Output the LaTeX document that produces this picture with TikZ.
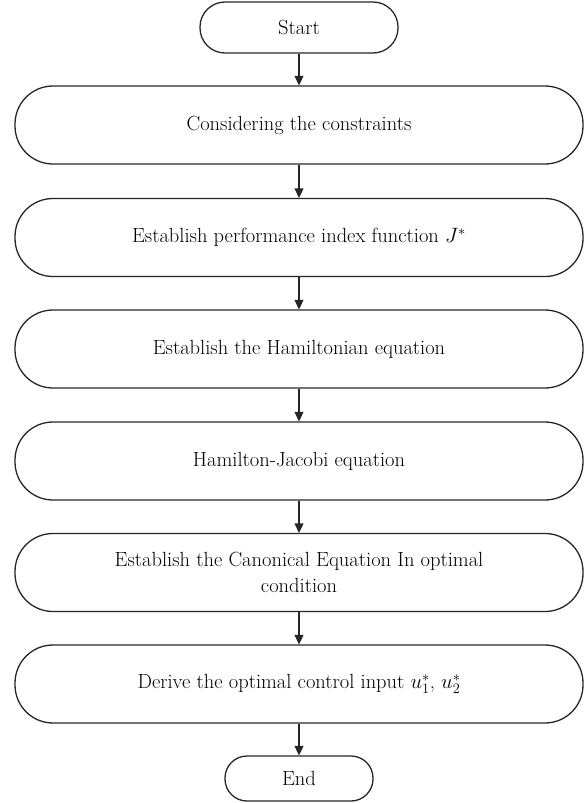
\documentclass[tikz,border=0pt]{standalone}
\usetikzlibrary{arrows.meta}
\begin{document}
\begin{tikzpicture}[x=1pt,y=-1pt,
  txt/.style={font=\fontsize{20.5}{26}\selectfont},
  box/.style={draw=black!85, line width=1.3pt, rounded corners=38pt, minimum width=568pt, minimum height=78pt, inner sep=0pt, align=center, txt},
  term/.style={draw=black!85, line width=1.3pt, inner sep=0pt, txt},
  flow/.style={draw=black!85, line width=1.3pt, -{Triangle[length=9.5pt,width=9pt]}}]
\useasboundingbox (0,0) rectangle (587,803);
\node[term, rounded corners=25pt, minimum width=198pt, minimum height=51pt] (start) at (299,27.5) {Start};
\node[box] (b1) at (299,125) {Considering the constraints};
\node[box] (b2) at (299,237.5) {Establish performance index function $J^{*}$};
\node[box] (b3) at (299,349) {Establish the Hamiltonian equation};
\node[box] (b4) at (299,461) {Hamilton-Jacobi equation};
\node[box] (b5) at (299,572.5) {Establish the Canonical Equation In optimal\\condition};
\node[box] (b6) at (299,684) {Derive the optimal control input $u_1^{*}$, $u_2^{*}$};
\node[term, rounded corners=22pt, minimum width=148pt, minimum height=45pt] (end) at (299,778.5) {End};
\draw[flow] (start) -- (b1);
\draw[flow] (b1) -- (b2);
\draw[flow] (b2) -- (b3);
\draw[flow] (b3) -- (b4);
\draw[flow] (b4) -- (b5);
\draw[flow] (b5) -- (b6);
\draw[flow] (b6) -- (end);
\end{tikzpicture}
\end{document}
